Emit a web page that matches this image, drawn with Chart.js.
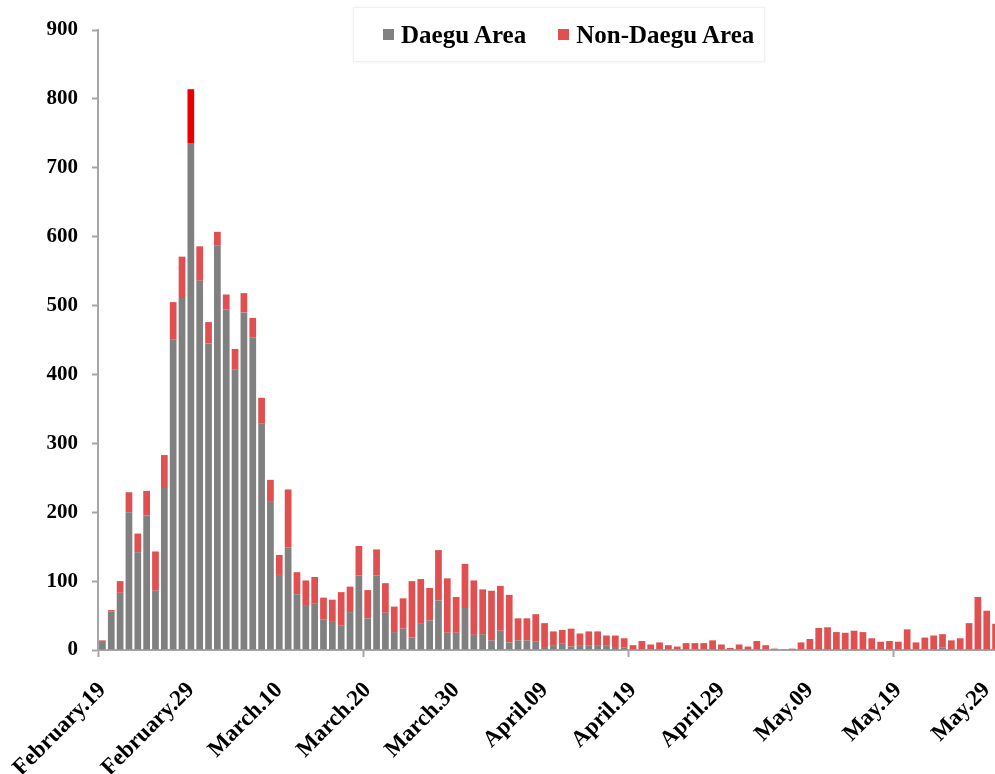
<!DOCTYPE html>
<html>
<head>
<meta charset="utf-8">
<script src="https://cdn.jsdelivr.net/npm/chart.js@4.4.1/dist/chart.umd.min.js"></script>
<style>
  html, body { margin: 0; padding: 0; background: #fff; overflow: hidden; }
  #wrap { position: relative; width: 995px; height: 774px; overflow: hidden; }
  #box { position: absolute; left: 0; top: 0; width: 1000px; height: 774px; }
  #legend {
    position: absolute; left: 353px; top: 7px; width: 412px; height: 55px;
    box-sizing: border-box; border: 1px solid #f1f1f1; box-shadow: 0 0 3px rgba(0,0,0,0.06);
    display: flex; align-items: center; padding-left: 29px; white-space: nowrap;
    font: bold 25px "Liberation Serif", "Times New Roman", serif; color: #000;
  }
  #legend .item { display: flex; align-items: center; margin-right: 32px; }
  #legend .sw { width: 11px; height: 11px; margin-right: 7px; flex: none; }
</style>
</head>
<body>
<div id="wrap">
  <div id="box"><canvas id="barChart"></canvas></div>
  <div id="legend"></div>
</div>
<script>
const days = [
  'Feb 19', 'Feb 20', 'Feb 21', 'Feb 22', 'Feb 23', 'Feb 24', 'Feb 25', 'Feb 26', 'Feb 27', 'Feb 28', 'Feb 29',
  'Mar 01', 'Mar 02', 'Mar 03', 'Mar 04', 'Mar 05', 'Mar 06', 'Mar 07', 'Mar 08', 'Mar 09', 'Mar 10',
  'Mar 11', 'Mar 12', 'Mar 13', 'Mar 14', 'Mar 15', 'Mar 16', 'Mar 17', 'Mar 18', 'Mar 19', 'Mar 20',
  'Mar 21', 'Mar 22', 'Mar 23', 'Mar 24', 'Mar 25', 'Mar 26', 'Mar 27', 'Mar 28', 'Mar 29', 'Mar 30', 'Mar 31',
  'Apr 01', 'Apr 02', 'Apr 03', 'Apr 04', 'Apr 05', 'Apr 06', 'Apr 07', 'Apr 08', 'Apr 09', 'Apr 10',
  'Apr 11', 'Apr 12', 'Apr 13', 'Apr 14', 'Apr 15', 'Apr 16', 'Apr 17', 'Apr 18', 'Apr 19', 'Apr 20',
  'Apr 21', 'Apr 22', 'Apr 23', 'Apr 24', 'Apr 25', 'Apr 26', 'Apr 27', 'Apr 28', 'Apr 29', 'Apr 30',
  'May 01', 'May 02', 'May 03', 'May 04', 'May 05', 'May 06', 'May 07', 'May 08', 'May 09', 'May 10',
  'May 11', 'May 12', 'May 13', 'May 14', 'May 15', 'May 16', 'May 17', 'May 18', 'May 19', 'May 20',
  'May 21', 'May 22', 'May 23', 'May 24', 'May 25', 'May 26', 'May 27', 'May 28', 'May 29', 'May 30'
];

// one visible label every 10 days
const tickLabels = [
  'February.19', 'February.29', 'March.10', 'March.20', 'March.30', 'April.09',
  'April.19', 'April.29', 'May.09', 'May.19', 'May.29'
];

const daegu = [
  13, 56, 83, 200, 142, 195, 86, 235, 451, 511, 736,
  536, 445, 587, 494, 407, 490, 454, 329, 215, 109,
  149, 81, 64, 68, 44, 42, 36, 55, 108, 46,
  108, 54, 26, 31, 18, 38, 43, 72, 25, 25, 61,
  22, 23, 14, 28, 11, 14, 14, 12, 3, 6,
  9, 5, 6, 7, 6, 7, 3, 4, 1, 0,
  1, 1, 1, 0, 1, 0, 1, 0, 1, 0,
  1, 0, 1, 0, 0, 0, 0, 0, 0, 0,
  1, 0, 1, 0, 0, 0, 0, 0, 0, 0,
  0, 0, 0, 4, 0, 0, 1, 1, 0, 0
];

const nonDaegu = [
  1, 2, 17, 29, 27, 36, 57, 48, 54, 60, 78,
  50, 31, 20, 22, 30, 28, 28, 37, 32, 29,
  84, 32, 37, 38, 32, 31, 48, 37, 43, 41,
  38, 43, 37, 44, 82, 65, 47, 73, 79, 52, 64,
  79, 65, 72, 65, 69, 32, 32, 40, 36, 21,
  20, 26, 18, 20, 21, 14, 18, 13, 6, 13,
  7, 10, 6, 5, 9, 10, 9, 14, 7, 3,
  7, 5, 12, 7, 2, 1, 2, 11, 16, 32,
  32, 26, 24, 28, 26, 17, 12, 13, 12, 30,
  11, 18, 21, 19, 14, 17, 38, 76, 57, 38
];

const yTicks = [0, 100, 200, 300, 400, 500, 600, 700, 800, 900];

const GREY = '#808080';
const RED = '#e05050';
const PEAK_RED = '#e60000';
const AXIS = '#a6a6a6';
const FONT = '"Liberation Serif", "Times New Roman", serif';

const totals = daegu.map((v, i) => v + nonDaegu[i]);
const peakIndex = totals.indexOf(Math.max(...totals));

const ctx = document.getElementById('barChart').getContext('2d');
const chart = new Chart(ctx, {
  type: 'bar',
  data: {
    labels: days,
    datasets: [
      {
        label: 'Daegu Area',
        data: daegu,
        backgroundColor: GREY,
        barPercentage: 0.76,
        categoryPercentage: 1.0
      },
      {
        label: 'Non-Daegu Area',
        data: nonDaegu,
        backgroundColor: c => (c.dataIndex === peakIndex ? PEAK_RED : RED),
        barPercentage: 0.76,
        categoryPercentage: 1.0
      }
    ]
  },
  options: {
    responsive: true,
    maintainAspectRatio: false,
    animation: false,
    layout: { padding: { top: 30, right: 0, bottom: 0, left: 0 } },
    plugins: {
      legend: { display: false },
      tooltip: { enabled: false }
    },
    scales: {
      x: {
        stacked: true,
        grid: {
          drawOnChartArea: false,
          drawTicks: true,
          tickLength: 7,
          tickWidth: 2,
          tickColor: c => (c.index % 30 === 0 ? AXIS : 'rgba(0,0,0,0)')
        },
        border: { display: true, color: AXIS, width: 2 },
        ticks: {
          autoSkip: false,
          minRotation: 45,
          maxRotation: 45,
          padding: 20,
          color: '#000',
          font: { family: FONT, size: 23, weight: 'bold' },
          callback: (value, index) => (index % 10 === 0 ? tickLabels[index / 10] : '')
        },
        afterFit: scale => {
          scale.height = 124;
          scale.paddingLeft = 0;
          scale.paddingRight = 0;
        }
      },
      y: {
        stacked: true,
        min: 0,
        max: 900,
        afterBuildTicks: scale => { scale.ticks = yTicks.map(v => ({ value: v })); },
        grid: {
          drawOnChartArea: false,
          drawTicks: true,
          tickLength: 6,
          tickWidth: 2,
          tickColor: AXIS
        },
        border: { display: true, color: AXIS, width: 2 },
        ticks: {
          padding: 14,
          color: '#000',
          font: { family: FONT, size: 21, weight: 'bold' }
        },
        afterFit: scale => { scale.width = 98; }
      }
    }
  }
});

// legend drawn as html so it can sit over the plot like in the original
const legendEl = document.getElementById('legend');
chart.data.datasets.forEach(ds => {
  const item = document.createElement('div');
  item.className = 'item';
  const sw = document.createElement('span');
  sw.className = 'sw';
  sw.style.background = typeof ds.backgroundColor === 'string' ? ds.backgroundColor : RED;
  const txt = document.createElement('span');
  txt.textContent = ds.label;
  item.appendChild(sw);
  item.appendChild(txt);
  legendEl.appendChild(item);
});
</script>
</body>
</html>
